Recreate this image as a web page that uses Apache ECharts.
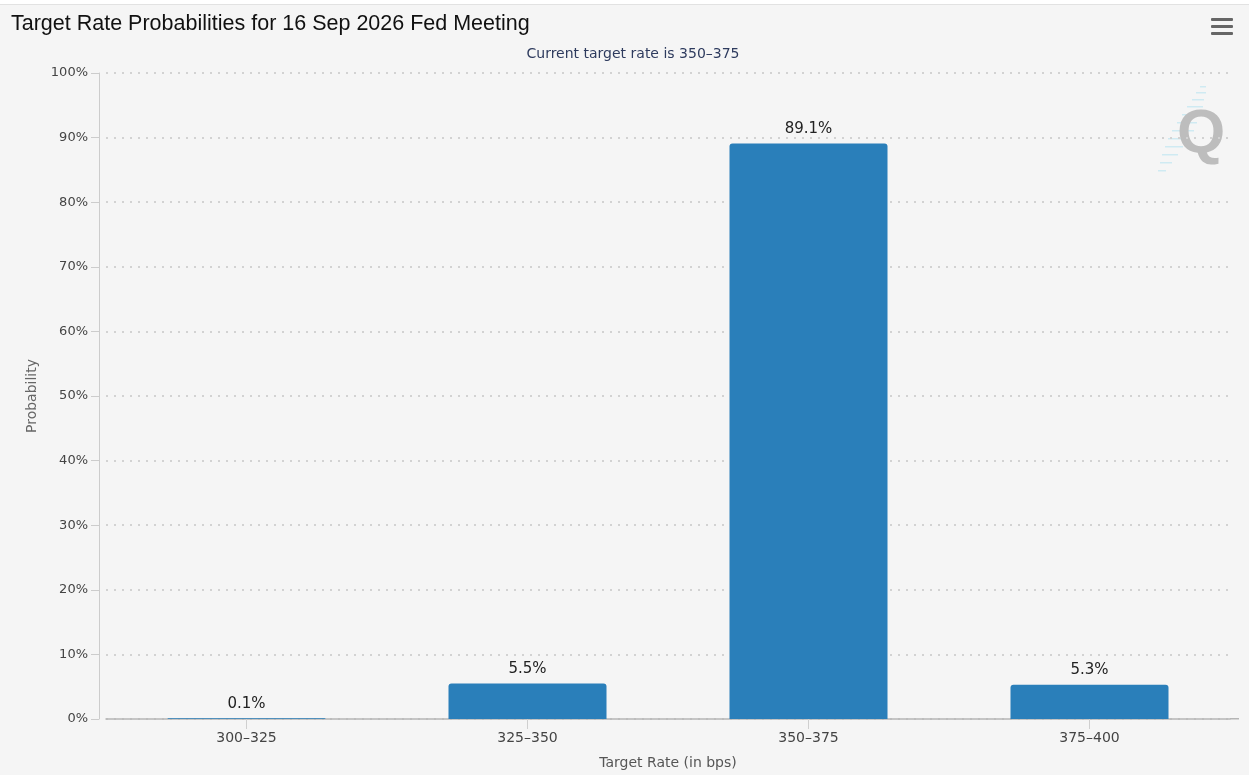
<!DOCTYPE html>
<html><head><meta charset="utf-8">
<script src="https://cdn.jsdelivr.net/npm/echarts@6/dist/echarts.min.js"></script>
<style>html,body{margin:0;padding:0;background:#f5f5f5}#c{width:1249px;height:775px}</style>
</head><body><div id="c"></div>
<script>
const categories = ['300–325','325–350','350–375','375–400'];
const probabilities = [0.1, 5.5, 89.1, 5.3];
const yTicks = [0,10,20,30,40,50,60,70,80,90,100];

const streaks = [];
const streakRows = [[1200,86,6],[1196,92,10],[1192,99,12],[1187,106,16],[1182,114,18],[1177,122,20],[1172,130,22],[1168,138,20],[1165,146,18],[1162,154,16],[1160,162,12],[1158,170,8]];
streakRows.forEach(r => streaks.push({type: 'rect', shape: {x: r[0], y: r[1], width: r[2], height: 1.5}, style: {fill: '#cfeaf2'}}));

const chart = echarts.init(document.getElementById('c'));
chart.setOption({
  backgroundColor: '#f5f5f5',
  animation: false,
  title: [
    {text: 'Target Rate Probabilities for 16 Sep 2026 Fed Meeting', left: 6, top: 8,
     textStyle: {fontFamily: 'Liberation Sans, Arial', fontSize: 21.5, fontWeight: 'normal', color: '#111'}},
    {text: 'Current target rate is 350–375', left: 628, top: 42, textAlign: 'center',
     textStyle: {fontFamily: 'DejaVu Sans', fontSize: 14, fontWeight: 'normal', color: '#2e3b5e'}}
  ],
  graphic: [
    {type: 'rect', shape: {x: 0, y: 0, width: 1249, height: 4}, style: {fill: '#ffffff'}},
    {type: 'rect', shape: {x: 0, y: 4, width: 1249, height: 1}, style: {fill: '#e2e2e2'}},
    {type: 'rect', shape: {x: 1211, y: 18, width: 22, height: 3, r: 1}, style: {fill: '#666'}},
    {type: 'rect', shape: {x: 1211, y: 25, width: 22, height: 3, r: 1}, style: {fill: '#666'}},
    {type: 'rect', shape: {x: 1211, y: 32, width: 22, height: 3, r: 1}, style: {fill: '#666'}},
    ...streaks,
    {type: 'text', left: 1177, top: 104, style: {text: 'Q', font: 'bold 62px Liberation Sans, Arial', fill: '#bdbdbd'}},
    {type: 'rect', shape: {x: 1230, y: 718, width: 9, height: 1.5}, style: {fill: '#b5b5b5'}}
  ],
  grid: {left: 106, right: 19, top: 73, bottom: 56, containLabel: false},
  xAxis: {
    type: 'category', data: categories,
    name: 'Target Rate (in bps)', nameLocation: 'middle', nameGap: 37,
    nameTextStyle: {fontFamily: 'DejaVu Sans', fontSize: 14, color: '#555'},
    axisLine: {lineStyle: {color: '#b5b5b5', width: 1.5}},
    axisTick: {show: true, alignWithLabel: true, length: 10, lineStyle: {color: '#cfcfcf'}},
    axisLabel: {fontFamily: 'DejaVu Sans', fontSize: 14, color: '#444', margin: 12}
  },
  yAxis: {
    type: 'value', min: 0, max: 100, interval: 10, offset: 7,
    name: 'Probability', nameLocation: 'middle', nameGap: 60, nameRotate: 90,
    nameTextStyle: {fontFamily: 'DejaVu Sans', fontSize: 14, color: '#666'},
    axisLine: {show: true, lineStyle: {color: '#cccccc'}},
    axisTick: {show: true, inside: false, length: 8, lineStyle: {color: '#cccccc'}},
    axisLabel: {fontFamily: 'DejaVu Sans', fontSize: 13, color: '#444', margin: 11,
      formatter: v => yTicks.includes(v) ? v + '%' : ''},
    splitLine: {lineStyle: {color: '#d2d2d2', type: [2, 6], width: 2}}
  },
  series: [{
    type: 'bar', data: probabilities, barWidth: 158,
    itemStyle: {color: '#2a7fba', borderRadius: [3,3,0,0]},
    label: {show: true, position: 'top', distance: 7, formatter: p => p.value.toFixed(1) + '%',
      fontFamily: 'DejaVu Sans', fontSize: 15, color: '#222'}
  }]
});
</script></body></html>
